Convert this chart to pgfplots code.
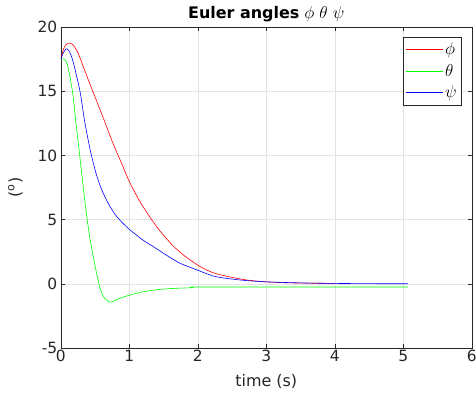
\documentclass[border=0pt]{standalone}
\usepackage{pgfplots}
\pgfplotsset{compat=1.18}
\usepackage{fontspec}
\setmainfont{DejaVu Sans}
\definecolor{axgray}{gray}{0.15}
\definecolor{cR}{rgb}{1,0,0}
\definecolor{cG}{rgb}{0,1,0}
\definecolor{cB}{rgb}{0,0,1}
\begin{document}
\begin{tikzpicture}
\path[use as bounding box] (-60.8bp,-48bp) rectangle (415.2bp,348bp);
\begin{axis}[
  at={(0,0)}, anchor=south west,
  scale only axis,
  width=411bp, height=321bp,
  xmin=0, xmax=6, ymin=-5, ymax=20,
  xtick={0,1,...,6}, ytick={-5,0,5,10,15,20},
  axis line style={axgray, line width=0.6pt},
  tick style={axgray, line width=0.6pt},
  major tick length=4bp,
  tick align=inside,
  grid=major,
  major grid style={gray!22, line width=0.5pt},
  /pgf/number format/assume math mode=true,
  ticklabel style={font=\fontsize{15.5}{17}\selectfont, text=axgray},
  xticklabel style={yshift=1bp},
  xlabel={time (s)},
  ylabel={(\textsuperscript{o})},
  label style={font=\fontsize{16}{18}\selectfont, text=axgray},
  xlabel style={yshift=-5bp},
  ylabel style={yshift=8bp},
  title={\textbf{Euler angles} $\phi$ $\theta$ $\psi$},
  title style={font=\fontsize{16}{18}\selectfont, yshift=-4bp},
  legend style={at={(0.974,0.97)}, anchor=north east, draw=axgray, line width=0.6pt,
    font=\fontsize{16}{18}\selectfont, row sep=4bp, inner ysep=4bp, inner xsep=2bp},
  legend cell align=left,
  legend image code/.code={\draw[#1, line width=0.9pt] (0cm,0cm) -- (1.3cm,0cm);},
]
\addplot[color=cR, line width=0.6pt, smooth, tension=0.4] coordinates {
(0,17.5) (0.04,18.3) (0.08,18.65) (0.13,18.75) (0.18,18.6) (0.25,18.0) (0.35,16.6)
(0.47,14.95) (0.6,13.2) (0.75,11.1) (0.89,9.35) (1.01,7.85) (1.15,6.45) (1.3,5.2)
(1.45,4.1) (1.64,2.95) (1.8,2.2) (2.03,1.35) (2.23,0.85) (2.45,0.55) (2.71,0.3)
(3.0,0.15) (3.3,0.08) (3.6,0.05) (4.0,0.03)};
\addlegendentry{$\phi$}
\addplot[color=cG, line width=0.6pt, smooth, tension=0.4] coordinates {
(0,17.5) (0.05,17.5) (0.1,17.0) (0.17,15.0) (0.22,12.6) (0.28,9.8) (0.35,6.5)
(0.42,3.7) (0.5,1.4) (0.57,-0.3) (0.63,-1.05) (0.7,-1.4) (0.75,-1.42) (0.85,-1.15)
(1.01,-0.87) (1.2,-0.62) (1.375,-0.48) (1.6,-0.37) (1.93,-0.3) (1.95,-0.25)
(3.0,-0.25) (4.0,-0.25) (5.07,-0.25)};
\addlegendentry{$\theta$}
\addplot[color=cB, line width=0.6pt, smooth, tension=0.4] coordinates {
(0,17.5) (0.03,17.9) (0.076,18.3) (0.12,18.15) (0.18,17.3) (0.28,15.0) (0.35,12.6)
(0.43,10.4) (0.48,9.3) (0.52,8.5) (0.57,7.7) (0.62,7.05) (0.67,6.5) (0.72,6.0)
(0.8,5.35) (0.9,4.75) (1.01,4.2) (1.2,3.4)
(1.35,2.9) (1.55,2.2) (1.74,1.6) (1.93,1.2) (2.23,0.6) (2.45,0.4) (2.71,0.25)
(3.0,0.15) (3.5,0.07) (4.0,0.03) (4.5,0.01) (5.07,0.0)};
\addlegendentry{$\psi$}
\end{axis}
\end{tikzpicture}
\end{document}
